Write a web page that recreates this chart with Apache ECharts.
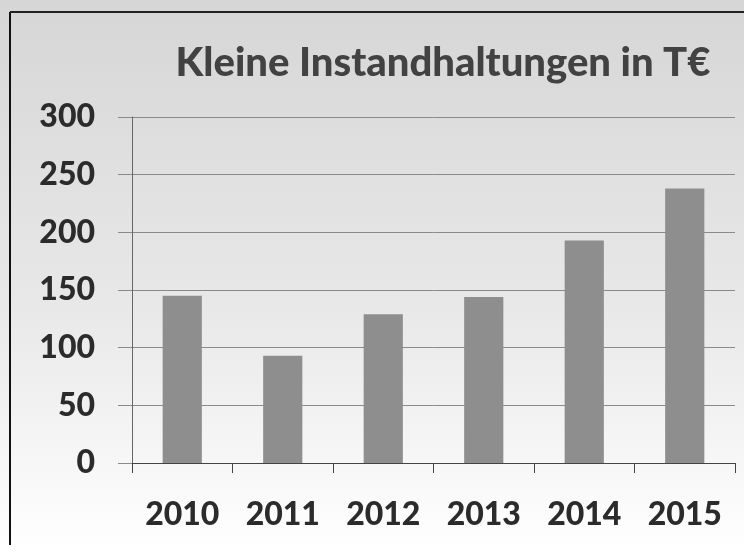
<!DOCTYPE html>
<html><head><meta charset="utf-8">
<script src="https://cdn.jsdelivr.net/npm/echarts@6/dist/echarts.min.js"></script>
<style>html,body{margin:0;padding:0;background:#fff}#c{width:744px;height:553px}</style>
</head><body><div id="c"></div>
<script>
const categories = ['2010','2011','2012','2013','2014','2015'];
const values = [145, 93, 129, 144, 193, 238];
const yTicks = [0, 50, 100, 150, 200, 250, 300];
const titleText = 'Kleine Instandhaltungen in T€';

const chart = echarts.init(document.getElementById('c'));
chart.setOption({
  animation: false,
  backgroundColor: new echarts.graphic.LinearGradient(0,0,0,1,[
    {offset:0,color:'#d6d6d6'},{offset:0.55,color:'#e8e8e8'},{offset:1,color:'#ffffff'}]),
  title: {
    text: titleText, left: 438, top: 38, textAlign: 'center',
    textStyle: {fontFamily: 'Lato', fontWeight: 900, fontSize: 40, color: '#424242'}
  },
  grid: {left: 132, right: 9, top: 117, bottom: 90},
  xAxis: {
    type: 'category', data: categories,
    axisLine: {lineStyle: {color: '#444', width: 1}},
    axisTick: {show: true, length: 10, lineStyle: {color: '#444'}},
    axisLabel: {fontFamily: 'Lato', fontWeight: 900, fontSize: 32, color: '#2b2b2b', margin: 36}
  },
  yAxis: {
    type: 'value', min: 0, max: 300, interval: 50,
    axisLine: {show: true, lineStyle: {color: '#666'}},
    axisTick: {show: true, length: 14, lineStyle: {color: '#8a8a8a'}},
    splitLine: {lineStyle: {color: '#8a8a8a', width: 1}},
    axisLabel: {fontFamily: 'Lato', fontWeight: 900, fontSize: 32, color: '#2b2b2b', margin: 37,
      formatter: v => yTicks.includes(v) ? String(v) : ''}
  },
  series: [{
    type: 'bar', data: values, barWidth: '39%',
    itemStyle: {color: '#8e8e8e'}
  }],
  graphic: [
    {type: 'line', shape: {x1: 10, y1: 12, x2: 10, y2: 545}, style: {stroke: '#111', lineWidth: 2}},
    {type: 'line', shape: {x1: 10, y1: 12, x2: 744, y2: 12}, style: {stroke: '#222', lineWidth: 2}}
  ]
});
</script></body></html>
